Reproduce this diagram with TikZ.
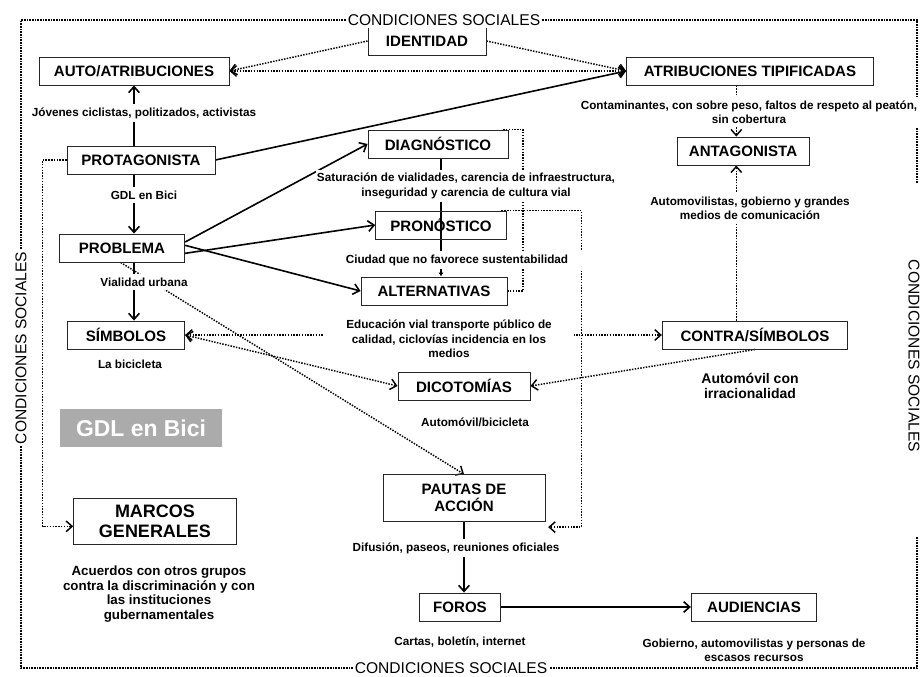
\documentclass[tikz,border=0pt]{standalone}
\usepackage{fontspec}
\setmainfont{Liberation Sans}
\usetikzlibrary{arrows.meta,backgrounds}

\begin{document}
\begin{tikzpicture}[
    x=0.75pt, y=-0.75pt,
    >={Straight Barb[length=4.5pt,width=8pt]},
    caja/.style={
        draw=black!85, line width=0.7pt,
        font=\bfseries\fontsize{11.3}{12.8}\selectfont,
        minimum height=21pt,
        inner sep=2pt,
        align=center
    },
    etiqueta/.style={
        fill=white,
        font=\bfseries\fontsize{8.8}{10.6}\selectfont,
        inner xsep=1pt, inner ysep=2.5pt,
        align=center
    },
    nota/.style={etiqueta, font=\bfseries\fontsize{10}{10.8}\selectfont},
    flecha/.style={line width=1.2pt, ->},
    punteada/.style={densely dotted, line width=1.1pt},
    marco/.style={dash pattern=on 1.2pt off 0.8pt, line width=0.9pt},
    borde/.style={fill=white, font=\fontsize{11.7}{13}\selectfont, inner sep=1.5pt}
]
\useasboundingbox (0,0) rectangle (922,677);

% cajas
\node[caja, minimum width=88.5pt] (identidad) at (427,41) {IDENTIDAD};
\node[caja, minimum width=142.5pt] (auto) at (134,71) {AUTO/ATRIBUCIONES};
\node[caja, minimum width=185pt] (tipif) at (750,71) {ATRIBUCIONES TIPIFICADAS};
\node[caja, minimum width=111pt] (protag) at (141,160) {PROTAGONISTA};
\node[caja, minimum width=94pt] (problema) at (122,248) {PROBLEMA};
\node[caja, minimum width=88pt] (simbolos) at (126,335) {SÍMBOLOS};
\node[caja, minimum width=122pt, minimum height=34.5pt,
      font=\bfseries\fontsize{13.5}{15}\selectfont] (marcos) at (155,521) {MARCOS\\GENERALES};
\node[caja, minimum width=105pt] (diagnostico) at (438,144) {DIAGNÓSTICO};
\node[caja, minimum width=98pt] (pronostico) at (441,225) {PRONÓSTICO};
\node[caja, minimum width=109.5pt] (alternativas) at (434,291) {ALTERNATIVAS};
\node[caja, minimum width=99pt] (dicotomias) at (464,386) {DICOTOMÍAS};
\node[caja, minimum width=121.5pt, minimum height=35pt] (pautas) at (464,498) {PAUTAS DE\\ACCIÓN};
\node[caja, minimum width=61pt] (foros) at (460,607) {FOROS};
\node[caja, minimum width=94pt] (audiencias) at (754,607) {AUDIENCIAS};
\node[caja, minimum width=99pt] (antagonista) at (743,151) {ANTAGONISTA};
\node[caja, minimum width=139pt] (contra) at (755,335) {CONTRA/SÍMBOLOS};
\node[fill=black!33, text=white, font=\bfseries\fontsize{17.2}{19}\selectfont,
      minimum width=121.5pt, minimum height=28.5pt] (logo) at (141,428) {GDL en Bici};

% etiquetas
\node[etiqueta] (jovenes) at (144,113) {Jóvenes ciclistas, politizados, activistas};
\node[etiqueta] (gdl) at (144,195) {GDL en Bici};
\node[etiqueta] (vialidad) at (144,282) {Vialidad urbana};
\node[etiqueta] (bici) at (130,364) {La bicicleta};
\node[etiqueta] (saturacion) at (466,186) {Saturación de vialidades, carencia de infraestructura,\\inseguridad y carencia de cultura vial};
\node[etiqueta, inner xsep=14pt] (ciudad) at (457,260) {Ciudad que no favorece sustentabilidad};
\node[etiqueta, inner xsep=17pt, font=\bfseries\fontsize{8.8}{10.9}\selectfont] (educacion) at (449,339) {Educación vial transporte público de\\calidad, ciclovías incidencia en los\\medios};
\node[etiqueta] (autobici) at (475,422) {Automóvil/bicicleta};
\node[etiqueta] (difusion) at (456,548) {Difusión, paseos, reuniones oficiales};
\node[etiqueta] (cartas) at (460,642) {Cartas, boletín, internet};
\node[etiqueta] (gobierno) at (754,650) {Gobierno, automovilistas y personas de\\escasos recursos};
\node[nota] (acuerdos) at (159,594) {Acuerdos con otros grupos\\contra la discriminación y con\\las instituciones\\gubernamentales};
\node[etiqueta] (contaminantes) at (749,112) {Contaminantes, con sobre peso, faltos de respeto al peatón,\\sin cobertura};
\node[etiqueta] (automovilistas) at (750,208) {Automovilistas, gobierno y grandes\\medios de comunicación};
\node[nota, font=\bfseries\fontsize{10.5}{11.2}\selectfont] (irracional) at (750,386) {Automóvil con\\irracionalidad};

% condiciones sociales
\node[borde] (ctop) at (444,20) {CONDICIONES SOCIALES};
\node[borde] (cbot) at (451,668) {CONDICIONES SOCIALES};
\node[borde, rotate=90] (cizq) at (21,348) {CONDICIONES SOCIALES};
\node[borde, rotate=-90] (cder) at (914,356) {CONDICIONES SOCIALES};
\coordinate (marcoA) at (917,183);
\coordinate (marcoB) at (917,537);
\coordinate (colantag) at ([xshift=-5pt]antagonista.south);

\begin{scope}[on background layer]
\draw[marco] (ctop.west) -| (cizq.east);
\draw[marco] (cizq.west) |- (cbot.west);
\draw[marco] (ctop.east) -| (marcoA);
\draw[marco] (marcoB) |- (cbot.east);

% columna izquierda
\draw[flecha] (auto.south |- protag.north) -- (auto.south);
\draw[flecha] (auto.south |- protag.south) -- (auto.south |- problema.north);
\draw[flecha] (auto.south |- problema.south) -- (auto.south |- simbolos.north);
\draw[flecha] (protag.east) -- (tipif.west);
\draw[punteada, ->] (protag.west) -- ++(-24,0) |- ([yshift=-4pt]marcos.west);

% problema
\draw[flecha] ([yshift=4.5pt]problema.east) -- (diagnostico.west);
\draw[flecha] ([yshift=-4pt]problema.east) -- (pronostico.west);
\draw[flecha] ([yshift=2pt]problema.east) -- (alternativas.west);
\draw[punteada, ->] ([xshift=-1pt]problema.south) -- (pautas.north);
\draw[line width=0.9pt, -{Latex[length=3pt,width=4pt]}]
    (diagnostico.south -| pronostico.north) -- (alternativas.north -| pronostico.north);
\draw[punteada] ([xshift=-4pt]diagnostico.north east) -- ++(20,0) |- (alternativas.east);
\draw[punteada, ->] ([xshift=-4pt]pronostico.north east) -- ++(80,0)
    |- ([xshift=2pt,yshift=-4pt]pautas.south east);

% identidad
\draw[punteada, ->] (identidad.west) -- (auto.east);
\draw[punteada, ->] (identidad.east) -- (tipif.west);
\draw[punteada, <->] (auto.east) -- (tipif.west);

% antagonista
\draw[punteada, ->] (colantag |- tipif.south) -- (colantag |- antagonista.north);
\draw[punteada, ->] (colantag |- contra.north) -- (colantag);

% simbolos
\draw[punteada, <->] (simbolos.east) -- (contra.west);
\draw[punteada, <->] (simbolos.east) -- (dicotomias.west);
\draw[punteada, ->] (contra.south) -- (dicotomias.east);

% acciones
\draw[flecha] (pautas.south) -- (pautas.south |- foros.north);
\draw[flecha] (foros.east) -- (audiencias.west);
\end{scope}
\end{tikzpicture}
\end{document}
